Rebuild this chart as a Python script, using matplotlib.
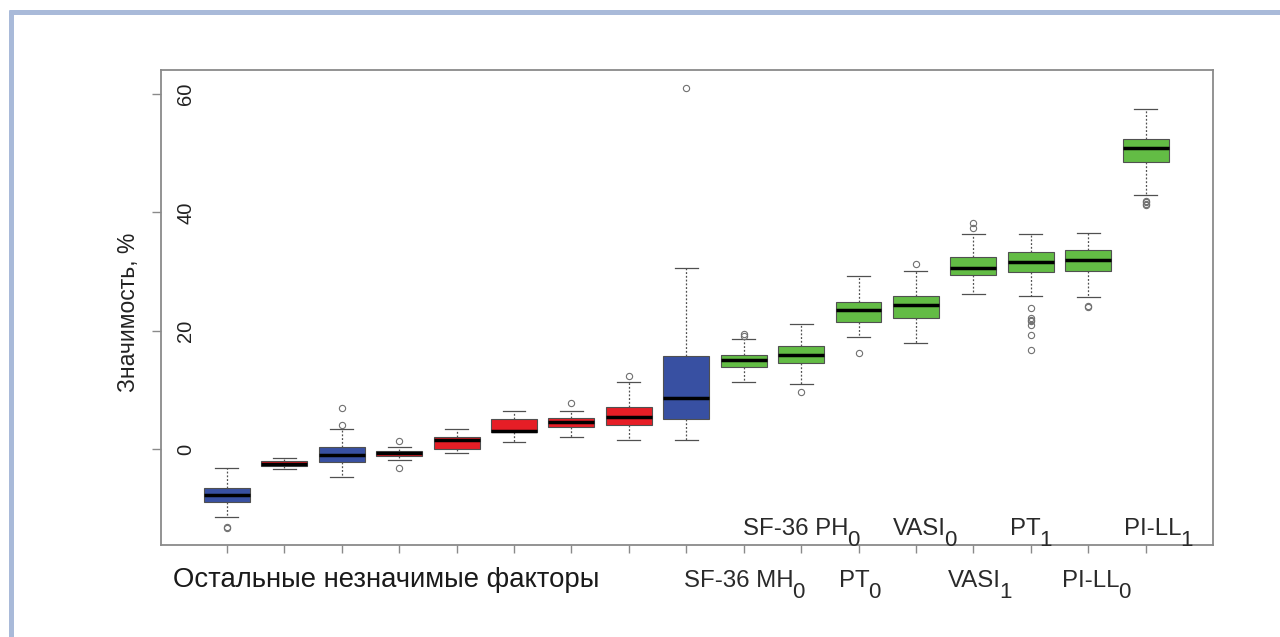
import matplotlib.pyplot as plt
from matplotlib.lines import Line2D

plt.rcParams['font.family'] = ['Liberation Sans', 'DejaVu Sans']

# five-number summaries (percent)
whislo = [-11.4, -3.4, -4.7, -1.8, -0.6, 1.2, 2.0, 1.5, 1.6,
          11.3, 11.0, 18.9, 18.0, 26.2, 25.9, 25.8, 42.9]
q1 = [-8.9, -2.8, -2.1, -1.1, 0.1, 2.9, 3.8, 4.05, 5.1,
      13.95, 14.5, 21.5, 22.2, 29.4, 30.0, 30.1, 48.6]
med = [-7.8, -2.4, -0.9, -0.7, 1.6, 3.1, 4.6, 5.5, 8.7,
       15.1, 16.0, 23.6, 24.4, 30.7, 31.7, 31.9, 50.9]
q3 = [-6.5, -1.9, 0.45, -0.3, 2.0, 5.1, 5.3, 7.1, 15.8,
      15.9, 17.4, 24.9, 25.9, 32.4, 33.3, 33.7, 52.4]
whishi = [-3.1, -1.5, 3.5, 0.45, 3.5, 6.5, 6.4, 11.3, 30.6,
          18.6, 21.2, 29.3, 30.2, 36.4, 36.4, 36.5, 57.4]
fliers = [
    [-13.1, -13.3], [], [4.1, 7.0], [1.4, -3.2], [], [], [7.9], [12.4], [61.0],
    [19.1, 19.5], [9.7], [16.2], [31.25], [37.3, 38.3],
    [23.9, 22.1, 21.9, 21.6, 21.0, 19.3, 16.8], [24.2, 24.0],
    [41.9, 41.7, 41.5, 41.3],
]
groups = ['b', 'r', 'b', 'r', 'r', 'r', 'r', 'r', 'b',
          'g', 'g', 'g', 'g', 'g', 'g', 'g', 'g']
group_colors = {'b': '#3850A2', 'r': '#E61E26', 'g': '#63BC45'}

# factor labels: box position -> (main text, subscript)
factor_labels = {
    10: ('SF-36 MH', '0'),
    11: ('SF-36 PH', '0'),
    12: ('PT', '0'),
    13: ('VASI', '0'),
    14: ('VASI', '1'),
    15: ('PT', '1'),
    16: ('PI-LL', '0'),
    17: ('PI-LL', '1'),
}
other_label = 'Остальные незначимые факторы'
y_label = 'Значимость, %'
yticks = [0, 20, 40, 60]

# label layout: row (0 above the axis, 1 below) and left-edge shift from the box
label_row = {10: 1, 11: 0, 12: 1, 13: 0, 14: 1, 15: 0, 16: 1, 17: 0}
label_shift = {10: -1.044, 11: -1.017, 12: -0.345, 13: -0.405,
               14: -0.448, 15: -0.368, 16: -0.463, 17: -0.383}

positions = list(range(1, len(med) + 1))
stats = []
for i in range(len(med)):
    stats.append({'med': med[i], 'q1': q1[i], 'q3': q3[i],
                  'whislo': whislo[i], 'whishi': whishi[i], 'fliers': fliers[i]})

fig = plt.figure(figsize=(12.8, 6.37), dpi=100)

# light blue frame of the slide
fig.add_artist(Line2D([0.0088, 0.0088], [0, 0.9843], color='#A9BAD9', lw=3.6,
                      transform=fig.transFigure, solid_capstyle='butt'))
fig.add_artist(Line2D([0.0068, 1.0], [0.9804, 0.9804], color='#A9BAD9', lw=3.6,
                      transform=fig.transFigure, solid_capstyle='butt'))

ax = fig.add_axes([0.1255, 0.1444, 0.822, 0.7457])
edge = '#505050'
bp = ax.bxp(stats, positions=positions, widths=0.8, patch_artist=True,
            boxprops=dict(edgecolor=edge, linewidth=0.8),
            whiskerprops=dict(color=edge, linestyle=(0, (1.5, 1.5)), linewidth=0.9),
            capprops=dict(color=edge, linewidth=0.9),
            medianprops=dict(color='black', linewidth=2.5, solid_capstyle='butt'),
            flierprops=dict(marker='o', markersize=4.5, markerfacecolor='none',
                            markeredgecolor='#707070', markeredgewidth=0.8))
for patch, g in zip(bp['boxes'], groups):
    patch.set_facecolor(group_colors[g])
for cap in bp['caps']:
    x0, x1 = cap.get_xdata()
    c = (x0 + x1) / 2
    cap.set_xdata([c - 0.2, c + 0.2])

ax.set_xlim(-0.154, 18.17)
ax.set_ylim(-16.17, 64.07)

for side in ['top', 'right', 'left', 'bottom']:
    ax.spines[side].set_color('#8a8a8a')
    ax.spines[side].set_linewidth(1.3)

ax.set_xticks(positions)
ax.set_xticklabels([])
ax.tick_params(axis='x', direction='out', length=5.8, width=1.0, color='#8a8a8a')
ax.set_yticks(yticks)
ax.set_yticklabels([str(t) for t in yticks], rotation=90, va='center', ha='center',
                   fontsize=14.5, color='#222222')
ax.tick_params(axis='y', direction='out', length=6.5, width=1.0, color='#8a8a8a', pad=-24.5)

trans = ax.get_xaxis_transform()
row_y = {0: 0.021, 1: -0.088}
for pos, (main, sub) in factor_labels.items():
    t = ax.text(pos + label_shift[pos], row_y[label_row[pos]], main, transform=trans,
                ha='left', va='baseline', fontsize=17.3, color='#2a2a2a', clip_on=False)
    ax.annotate(sub, xy=(1, 0), xycoords=t, xytext=(-0.8, -4.3),
                textcoords='offset points', ha='left', va='baseline',
                fontsize=16, color='#2a2a2a', annotation_clip=False)

ax.text(0.06, -0.088, other_label, transform=trans, ha='left', va='baseline',
        fontsize=19.8, color='#1a1a1a', clip_on=False)

fig.text(128 / 1280, 0.51, y_label, rotation=90, ha='center', va='center',
         fontsize=16.5, color='#222222')

fig.savefig('out.png', dpi=100)
plt.close(fig)
